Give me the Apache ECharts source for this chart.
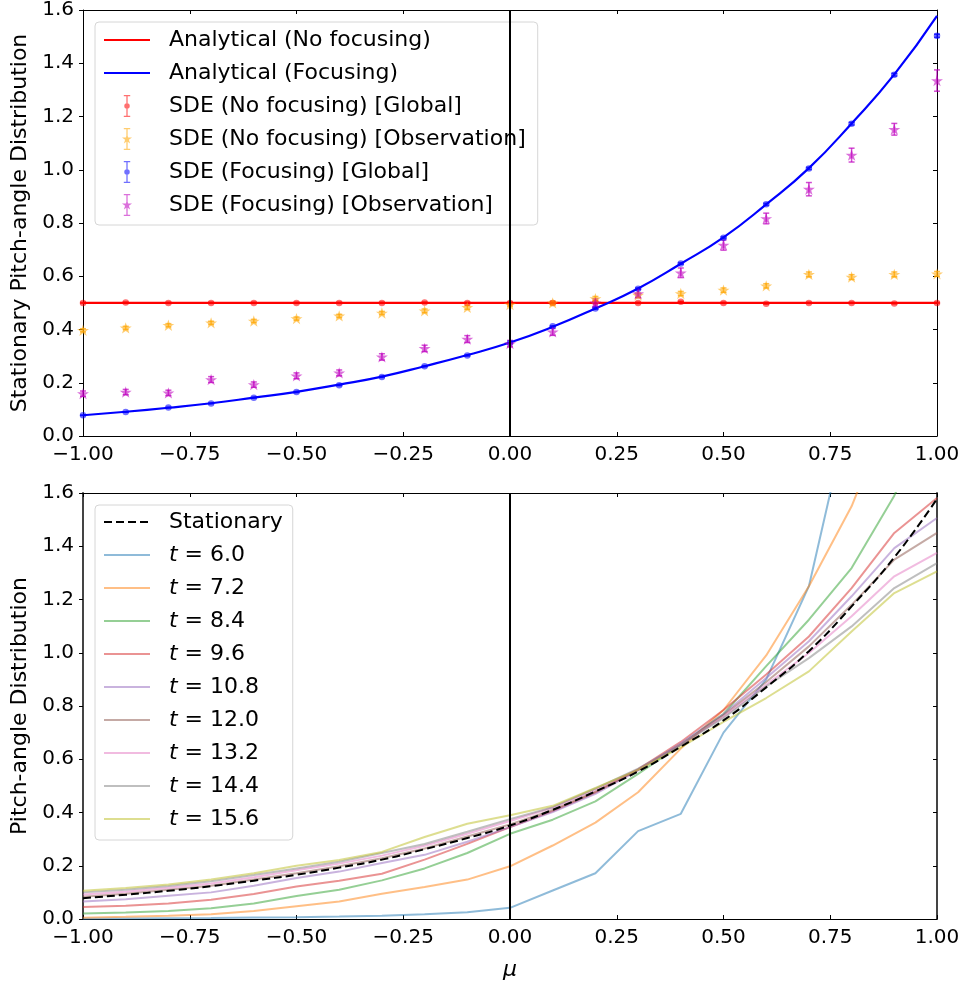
<!DOCTYPE html>
<html>
<head>
<meta charset="utf-8">
<script src="https://cdn.jsdelivr.net/npm/echarts@6/dist/echarts.min.js"></script>
<style>
html, body { margin: 0; padding: 0; background: #fff; }
#chart { width: 967px; height: 983px; }
</style>
</head>
<body>
<div id="chart"></div>
<script>
// pitch-angle grid (mu)
const mu = [-1, -0.9, -0.8, -0.7, -0.6, -0.5, -0.4, -0.3, -0.2, -0.1, 0,
  0.1, 0.2, 0.3, 0.4, 0.5, 0.6, 0.7, 0.8, 0.9, 1]

// top panel
const analyticalNoFocus = [0.5, 0.5, 0.5, 0.5, 0.5, 0.5, 0.5, 0.5, 0.5, 0.5, 0.5,
  0.5, 0.5, 0.5, 0.5, 0.5, 0.5, 0.5, 0.5, 0.5, 0.5]
const analyticalFocus = [0.078, 0.091, 0.106, 0.123, 0.144, 0.166, 0.193, 0.223, 0.262, 0.304, 0.351,
  0.41, 0.479, 0.554, 0.647, 0.746, 0.87, 1.006, 1.174, 1.358, 1.578]
const sdeNoFocusGlobal = [0.5, 0.501, 0.5, 0.5, 0.5, 0.5, 0.5, 0.5, 0.501, 0.5, 0.5,
  0.5, 0.501, 0.5, 0.504, 0.5, 0.497, 0.5, 0.5, 0.498, 0.5]
const sdeNoFocusGlobalErr = [0.002, 0.002, 0.002, 0.002, 0.002, 0.002, 0.002, 0.002, 0.002, 0.002, 0.002,
  0.002, 0.002, 0.002, 0.002, 0.002, 0.002, 0.002, 0.002, 0.002, 0.002]
const sdeNoFocusObs = [0.397, 0.406, 0.416, 0.425, 0.432, 0.441, 0.451, 0.462, 0.47, 0.483, 0.494,
  0.5, 0.516, 0.529, 0.535, 0.548, 0.564, 0.607, 0.597, 0.607, 0.609]
const sdeNoFocusObsErr = [0.006, 0.006, 0.006, 0.006, 0.006, 0.006, 0.006, 0.006, 0.007, 0.007, 0.007,
  0.007, 0.008, 0.008, 0.008, 0.008, 0.008, 0.009, 0.009, 0.009, 0.009]
const sdeFocusGlobal = [0.078, 0.09, 0.107, 0.122, 0.144, 0.165, 0.191, 0.222, 0.262, 0.302, 0.349,
  0.412, 0.479, 0.553, 0.648, 0.745, 0.87, 1.005, 1.173, 1.357, 1.503]
const sdeFocusGlobalErr = [0.001, 0.001, 0.001, 0.001, 0.001, 0.002, 0.002, 0.002, 0.002, 0.002, 0.002,
  0.002, 0.003, 0.003, 0.003, 0.003, 0.004, 0.004, 0.005, 0.005, 0.006]
const sdeFocusObs = [0.159, 0.165, 0.162, 0.212, 0.193, 0.226, 0.237, 0.297, 0.329, 0.364, 0.347,
  0.391, 0.5, 0.535, 0.613, 0.717, 0.817, 0.927, 1.055, 1.152, 1.335]
const sdeFocusObsErr = [0.01, 0.01, 0.01, 0.011, 0.01, 0.011, 0.011, 0.012, 0.012, 0.013, 0.012,
  0.013, 0.015, 0.016, 0.018, 0.019, 0.02, 0.025, 0.026, 0.022, 0.04]

// bottom panel
const stationary = [0.078, 0.091, 0.106, 0.123, 0.144, 0.166, 0.193, 0.223, 0.262, 0.304, 0.351,
  0.41, 0.479, 0.554, 0.647, 0.746, 0.87, 1.006, 1.174, 1.358, 1.578]
const times = ['6.0', '7.2', '8.4', '9.6', '10.8', '12.0', '13.2', '14.4', '15.6']
const t60 = [0.001, 0.002, 0.003, 0.004, 0.006, 0.007, 0.009, 0.012, 0.018, 0.025, 0.042,
  0.107, 0.172, 0.33, 0.395, 0.7, 0.9, 1.25, 1.95, 2.6, 3.2]
const t72 = [0.005, 0.008, 0.012, 0.018, 0.03, 0.048, 0.066, 0.095, 0.12, 0.148, 0.198,
  0.276, 0.362, 0.476, 0.64, 0.785, 0.99, 1.25, 1.55, 1.95, 2.4]
const t84 = [0.021, 0.024, 0.03, 0.04, 0.058, 0.086, 0.11, 0.145, 0.19, 0.248, 0.32,
  0.373, 0.442, 0.545, 0.655, 0.77, 0.95, 1.124, 1.318, 1.59, 1.95]
const t96 = [0.045, 0.05, 0.058, 0.072, 0.094, 0.122, 0.144, 0.17, 0.223, 0.282, 0.345,
  0.405, 0.475, 0.562, 0.665, 0.785, 0.918, 1.061, 1.243, 1.45, 1.581]
const t108 = [0.066, 0.074, 0.087, 0.1, 0.125, 0.154, 0.178, 0.21, 0.241, 0.29, 0.345,
  0.402, 0.47, 0.558, 0.66, 0.77, 0.905, 1.043, 1.212, 1.393, 1.506]
const t120 = [0.084, 0.095, 0.11, 0.125, 0.148, 0.172, 0.198, 0.228, 0.265, 0.31, 0.355,
  0.41, 0.478, 0.56, 0.655, 0.765, 0.89, 1.024, 1.18, 1.35, 1.45]
const t132 = [0.092, 0.102, 0.117, 0.133, 0.157, 0.183, 0.208, 0.238, 0.275, 0.32, 0.368,
  0.418, 0.485, 0.562, 0.655, 0.76, 0.88, 0.999, 1.137, 1.287, 1.375]
const t144 = [0.1, 0.11, 0.124, 0.142, 0.165, 0.19, 0.215, 0.248, 0.282, 0.328, 0.375,
  0.42, 0.49, 0.565, 0.655, 0.755, 0.874, 0.98, 1.099, 1.243, 1.337]
const t156 = [0.106, 0.116, 0.13, 0.148, 0.172, 0.2, 0.222, 0.252, 0.308, 0.358, 0.39,
  0.425, 0.492, 0.56, 0.645, 0.74, 0.83, 0.93, 1.08, 1.224, 1.306]
const timeSeries = [t60, t72, t84, t96, t108, t120, t132, t144, t156]
const tab10 = ['#1f77b4', '#ff7f0e', '#2ca02c', '#d62728', '#9467bd', '#8c564b', '#e377c2', '#7f7f7f', '#bcbd22']

const xTicks = { min: -1, max: 1, interval: 0.25 }
const yTicks = { min: 0, max: 1.6, interval: 0.2 }

const FONT = 'DejaVu Sans'
const STAR = 'path://M10,0L12.245,6.91L19.51,6.91L13.63,11.18L15.88,18.09L10,13.82L4.12,18.09L6.37,11.18L0.49,6.91L7.755,6.91Z'

function rect(x1, y1, x2, y2) {
  return 'M' + x1 + ',' + y1 + 'H' + x2 + 'V' + y2 + 'H' + x1 + 'Z'
}
// legend icon: errorbar with marker
function errIcon(star) {
  let p = rect(5.3, 0, 6.7, 24) + rect(2.5, 0, 9.5, 1.4) + rect(2.5, 22.6, 9.5, 24)
  if (star) {
    p += 'M6,6.5L7.29,10.47L11.47,10.47L8.09,12.93L9.38,16.9L6,14.45L2.62,16.9L3.91,12.93L0.53,10.47L4.71,10.47Z'
  } else {
    p += 'M9,12A3,3 0 1 1 3,12A3,3 0 1 1 9,12Z'
  }
  return 'path://' + p
}

const fmtX = v => (v < 0 ? '\u2212' : '') + Math.abs(v).toFixed(2)
const fmtY = v => v.toFixed(1)

function xAxesFor(gi, name) {
  const base = {
    gridIndex: gi, type: 'value', min: xTicks.min, max: xTicks.max, interval: xTicks.interval,
    axisLine: { onZero: false, lineStyle: { color: '#000', width: 1 } },
    axisTick: { inside: true, length: 4, lineStyle: { color: '#000' } },
    splitLine: { show: false }
  }
  return [
    Object.assign({}, base, {
      position: 'bottom',
      axisLabel: { color: '#000', fontFamily: FONT, fontSize: 20, margin: 9, formatter: fmtX },
      name: name || '', nameLocation: 'middle', nameGap: 40,
      nameTextStyle: { color: '#000', fontFamily: FONT, fontSize: 22, fontStyle: 'italic' }
    }),
    Object.assign({}, base, { position: 'top', axisLabel: { show: false } })
  ]
}

function yAxesFor(gi, name, spineColor, spineWidth) {
  const base = {
    gridIndex: gi, type: 'value', min: yTicks.min, max: yTicks.max, interval: yTicks.interval,
    axisLine: { onZero: false, lineStyle: { color: spineColor, width: spineWidth } },
    splitLine: { show: false }
  }
  return [
    Object.assign({}, base, {
      position: 'left',
      axisTick: { inside: false, length: 4, lineStyle: { color: '#000' } },
      axisLabel: { color: '#000', fontFamily: FONT, fontSize: 20, margin: 9, formatter: fmtY },
      name: name, nameLocation: 'middle', nameGap: 48,
      nameTextStyle: { color: '#000', fontFamily: FONT, fontSize: 22 }
    }),
    Object.assign({}, base, {
      position: 'right',
      axisTick: { inside: true, length: 4, lineStyle: { color: '#000' } },
      axisLabel: { show: false }
    })
  ]
}

const pairs = vals => mu.map((m, i) => [m, vals[i]])

function errBars(vals, errs, color) {
  return {
    type: 'custom',
    xAxisIndex: 0,
    yAxisIndex: 0,
    silent: true,
    z: 3,
    encode: { x: 0, y: 1 },
    data: mu.map((m, i) => [m, vals[i], errs[i]]),
    renderItem: (params, api) => {
      const x = api.value(0), y = api.value(1), e = api.value(2)
      const p1 = api.coord([x, y + e])
      const p2 = api.coord([x, y - e])
      const st = { stroke: color, lineWidth: 1.5 }
      return {
        type: 'group',
        children: [
          { type: 'line', shape: { x1: p1[0], y1: p1[1], x2: p2[0], y2: p2[1] }, style: st },
          { type: 'line', shape: { x1: p1[0] - 3, y1: p1[1], x2: p1[0] + 3, y2: p1[1] }, style: st },
          { type: 'line', shape: { x1: p2[0] - 3, y1: p2[1], x2: p2[0] + 3, y2: p2[1] }, style: st }
        ]
      }
    }
  }
}

function sdePoints(name, vals, color, star) {
  return {
    name: name,
    type: 'scatter',
    xAxisIndex: 0,
    yAxisIndex: 0,
    z: 4,
    symbol: star ? STAR : 'circle',
    symbolSize: star ? [12, 11.4] : 6.5,
    itemStyle: { color: color },
    data: pairs(vals)
  }
}

const zeroLine = {
  silent: true,
  symbol: ['none', 'none'],
  label: { show: false },
  lineStyle: { color: '#000', width: 2, type: 'solid' },
  data: [{ xAxis: 0 }]
}

const series = [
  {
    name: 'Analytical (No focusing)', type: 'line', xAxisIndex: 0, yAxisIndex: 0,
    symbol: 'none', lineStyle: { color: '#ff0000', width: 2.2 }, itemStyle: { color: '#ff0000' },
    data: pairs(analyticalNoFocus), markLine: zeroLine
  },
  {
    name: 'Analytical (Focusing)', type: 'line', xAxisIndex: 0, yAxisIndex: 0, smooth: true,
    symbol: 'none', lineStyle: { color: '#0000ff', width: 2.2 }, itemStyle: { color: '#0000ff' },
    data: pairs(analyticalFocus)
  },
  errBars(sdeNoFocusGlobal, sdeNoFocusGlobalErr, 'rgba(255,0,0,0.7)'),
  sdePoints('SDE (No focusing) [Global]', sdeNoFocusGlobal, 'rgba(255,0,0,0.7)', false),
  errBars(sdeNoFocusObs, sdeNoFocusObsErr, 'rgba(255,165,0,0.7)'),
  sdePoints('SDE (No focusing) [Observation]', sdeNoFocusObs, 'rgba(255,165,0,0.7)', true),
  errBars(sdeFocusGlobal, sdeFocusGlobalErr, 'rgba(0,0,255,0.7)'),
  sdePoints('SDE (Focusing) [Global]', sdeFocusGlobal, 'rgba(0,0,255,0.7)', false),
  errBars(sdeFocusObs, sdeFocusObsErr, 'rgba(191,0,191,0.7)'),
  sdePoints('SDE (Focusing) [Observation]', sdeFocusObs, 'rgba(191,0,191,0.7)', true)
]

timeSeries.forEach((vals, k) => {
  series.push({
    name: 't = ' + times[k], type: 'line', xAxisIndex: 2, yAxisIndex: 2,
    symbol: 'none', clip: true,
    lineStyle: { color: tab10[k], width: 2, opacity: 0.5 },
    itemStyle: { color: tab10[k], opacity: 0.5 },
    data: pairs(vals)
  })
})
series.push({
  name: 'Stationary', type: 'line', xAxisIndex: 2, yAxisIndex: 2, smooth: true,
  symbol: 'none', z: 3,
  lineStyle: { color: '#000', width: 2, type: [8, 4] }, itemStyle: { color: '#000' },
  data: pairs(stationary), markLine: zeroLine
})

// line entries: hide the marker drawn in the middle of the legend line
const lineEntry = name => ({ name: name, itemStyle: { opacity: 0 } })

const legendBase = {
  orient: 'vertical',
  itemWidth: 46,
  itemHeight: 22,
  itemGap: 11,
  selectedMode: false,
  backgroundColor: 'rgba(255,255,255,0.8)',
  borderColor: '#d6d6d6',
  borderWidth: 1,
  borderRadius: 4,
  textStyle: {
    color: '#000', fontFamily: FONT, fontSize: 22, lineHeight: 22,
    rich: { it: { fontStyle: 'italic', fontFamily: FONT, fontSize: 22, color: '#000' } }
  }
}

const option = {
  backgroundColor: '#fff',
  animation: false,
  grid: [
    { left: 83, top: 10, width: 854, height: 426 },
    { left: 83, top: 493, width: 854, height: 426 }
  ],
  xAxis: xAxesFor(0, '').concat(xAxesFor(1, '\u03bc')),
  yAxis: yAxesFor(0, 'Stationary Pitch-angle Distribution', '#000', 1)
    .concat(yAxesFor(1, 'Pitch-angle Distribution', '#444', 2)),
  legend: [
    Object.assign({}, legendBase, {
      left: 95, top: 22, padding: [7, 12, 9, 8],
      formatter: n => '  ' + n,
      data: [
        lineEntry('Analytical (No focusing)'),
        lineEntry('Analytical (Focusing)'),
        { name: 'SDE (No focusing) [Global]', icon: errIcon(false) },
        { name: 'SDE (No focusing) [Observation]', icon: errIcon(true) },
        { name: 'SDE (Focusing) [Global]', icon: errIcon(false) },
        { name: 'SDE (Focusing) [Observation]', icon: errIcon(true) }
      ]
    }),
    Object.assign({}, legendBase, {
      left: 95, top: 505, padding: [6, 10, 10, 8],
      formatter: n => n === 'Stationary' ? '  Stationary' : '  {it|t} = ' + n.slice(4),
      data: ['Stationary'].concat(times.map(t => 't = ' + t)).map(lineEntry)
    })
  ],
  series: series
}

const chart = echarts.init(document.getElementById('chart'))
chart.setOption(option)
</script>
</body>
</html>
